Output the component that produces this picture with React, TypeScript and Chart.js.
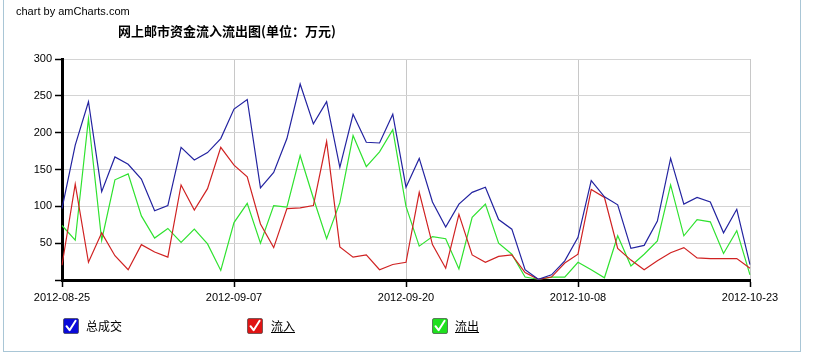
import React, { useEffect, useRef } from "react";
import { Chart, registerables } from "chart.js";

Chart.register(...registerables);

const dates: string[] = [
  "2012-08-25", "2012-08-26", "2012-08-27", "2012-08-28", "2012-08-29", "2012-08-30", "2012-08-31",
  "2012-09-01", "2012-09-02", "2012-09-03", "2012-09-04", "2012-09-05", "2012-09-06",
  "2012-09-07", "2012-09-08", "2012-09-09", "2012-09-10", "2012-09-11", "2012-09-12", "2012-09-13",
  "2012-09-14", "2012-09-15", "2012-09-16", "2012-09-17", "2012-09-18", "2012-09-19",
  "2012-09-20", "2012-09-21", "2012-09-22", "2012-09-23", "2012-09-24", "2012-09-25", "2012-09-26",
  "2012-09-27", "2012-09-28", "2012-09-29", "2012-09-30", "2012-10-06", "2012-10-07",
  "2012-10-08", "2012-10-09", "2012-10-10", "2012-10-11", "2012-10-12", "2012-10-15", "2012-10-16",
  "2012-10-17", "2012-10-18", "2012-10-19", "2012-10-20", "2012-10-21", "2012-10-22",
  "2012-10-23",
];

const totalValues: number[] = [
  97, 183, 242, 120, 167, 157, 137, 94, 101, 180, 163, 173, 192,
  232, 245, 125, 146, 192, 266, 212, 242, 153, 225, 187, 186, 225,
  126, 165, 106, 72, 103, 119, 126, 82, 69, 14, 1, 7, 26,
  58, 135, 113, 102, 43, 47, 80, 165, 103, 112, 106, 64, 96,
  21,
];

const inflowValues: number[] = [
  20, 130, 24, 64, 33, 14, 48, 38, 31, 129, 95, 124, 180,
  156, 140, 76, 44, 97, 98, 101, 188, 45, 31, 34, 14, 21,
  24, 119, 48, 16, 89, 34, 24, 32, 34, 10, 1, 4, 23,
  35, 123, 112, 43, 27, 14, 26, 37, 44, 30, 29, 29, 29,
  16,
];

const outflowValues: number[] = [
  74, 54, 219, 54, 136, 144, 87, 57, 70, 51, 69, 49, 13,
  78, 104, 50, 101, 99, 169, 111, 56, 105, 196, 154, 174, 204,
  100, 46, 59, 56, 15, 85, 103, 50, 35, 4, 1, 4, 4,
  24, 14, 3, 60, 19, 35, 53, 129, 60, 82, 79, 36, 67,
  7,
];

const seriesNames: string[] = ["总成交", "流入", "流出"];
const yTicks: number[] = [0, 50, 100, 150, 200, 250, 300];
const labelEvery = 13;

const lineColors = ["#2323a0", "#d02222", "#2fe22f"];
const legendColors = ["#0a0ad8", "#e01414", "#1ee01e"];

function Check({ color }: { color: string }) {
  return (
    <svg width="16" height="16" viewBox="0 0 16 16" style={{ display: "block" }}>
      <rect x="0.5" y="0.5" width="15" height="15" rx="1.5" fill={color} stroke="#333" strokeWidth="0.6" />
      <path d="M3.5 8.2 L6.6 12.2 L12.6 2.8" fill="none" stroke="#fff" strokeWidth="2" strokeLinecap="round" strokeLinejoin="round" />
    </svg>
  );
}

export default function App() {
  const canvasRef = useRef<HTMLCanvasElement | null>(null);

  useEffect(() => {
    if (!canvasRef.current) return;
    const tickFont = { family: "'Liberation Sans', Arial, sans-serif", size: 11 };
    const chart = new Chart(canvasRef.current, {
      type: "line",
      data: {
        labels: dates,
        datasets: [
          { label: seriesNames[0], data: totalValues, borderColor: lineColors[0], backgroundColor: lineColors[0], borderWidth: 1.2, pointRadius: 0, tension: 0 },
          { label: seriesNames[1], data: inflowValues, borderColor: lineColors[1], backgroundColor: lineColors[1], borderWidth: 1.2, pointRadius: 0, tension: 0 },
          { label: seriesNames[2], data: outflowValues, borderColor: lineColors[2], backgroundColor: lineColors[2], borderWidth: 1.2, pointRadius: 0, tension: 0 },
        ],
      },
      options: {
        animation: false,
        responsive: false,
        events: [],
        layout: { padding: { left: 0, right: 63, top: 59, bottom: 0 } },
        plugins: { legend: { display: false }, title: { display: false }, tooltip: { enabled: false } },
        scales: {
          x: {
            type: "category",
            offset: false,
            afterFit: (scale: any) => { scale.height = 79; },
            grid: {
              color: (ctx: any) => (ctx.index % labelEvery === 0 ? "#c8c8c8" : "rgba(0,0,0,0)"),
              tickColor: (ctx: any) => (ctx.index % labelEvery === 0 ? "#000" : "rgba(0,0,0,0)"),
              lineWidth: 1,
              tickWidth: 1.5,
              tickLength: 7,
            },
            border: { display: true, color: "#000", width: 3 },
            ticks: {
              autoSkip: false,
              maxRotation: 0,
              minRotation: 0,
              color: "#000",
              font: tickFont,
              padding: 4,
              callback: (_v: any, i: number) => (i % labelEvery === 0 ? dates[i] : ""),
            },
          },
          y: {
            min: yTicks[0],
            max: yTicks[yTicks.length - 1],
            afterFit: (scale: any) => { scale.width = 62; },
            afterBuildTicks: (scale: any) => { scale.ticks = yTicks.map((v) => ({ value: v })); },
            grid: {
              color: "#d4d4d4",
              tickColor: "#000",
              lineWidth: 1,
              tickWidth: 1.5,
              tickLength: 7,
            },
            border: { display: true, color: "#000", width: 3 },
            ticks: {
              color: "#000",
              font: tickFont,
              padding: 3,
              callback: (v: any) => (v === 0 ? "" : String(v)),
            },
          },
        },
      },
    } as any);
    return () => chart.destroy();
  }, []);

  const legendItems = [
    { left: 63, textLeft: 86, underline: false },
    { left: 247, textLeft: 271, underline: true },
    { left: 432, textLeft: 455, underline: true },
  ];

  return (
    <div style={{ position: "absolute", left: 0, top: 0, width: 813, height: 359, background: "#fff", overflow: "hidden" }}>
      <div style={{ position: "absolute", left: 3, top: -2, width: 798, height: 354, border: "1px solid #a9c6d6", boxSizing: "border-box" }} />
      <canvas ref={canvasRef} width={813} height={359} style={{ position: "absolute", left: 0, top: 0, width: 813, height: 359 }} />
      <div style={{ position: "absolute", left: 16, top: 4, font: "11px 'Liberation Sans', Arial, sans-serif", lineHeight: "14px", color: "#000", whiteSpace: "nowrap" }}>
        chart by amCharts.com
      </div>
      <div style={{ position: "absolute", left: 118, top: 22, font: "bold 13px 'Noto Sans CJK SC', sans-serif", lineHeight: "18px", color: "#000", whiteSpace: "nowrap" }}>
        网上邮市资金流入流出图(单位：万元)
      </div>
      {legendItems.map((it, i) => (
        <React.Fragment key={i}>
          <div style={{ position: "absolute", left: it.left, top: 318 }}>
            <Check color={legendColors[i]} />
          </div>
          <div style={{ position: "absolute", left: it.textLeft, top: 317, font: "12px 'Noto Sans CJK SC', sans-serif", lineHeight: "18px", color: "#000", textDecoration: it.underline ? "underline" : "none", whiteSpace: "nowrap" }}>
            {seriesNames[i]}
          </div>
        </React.Fragment>
      ))}
    </div>
  );
}
